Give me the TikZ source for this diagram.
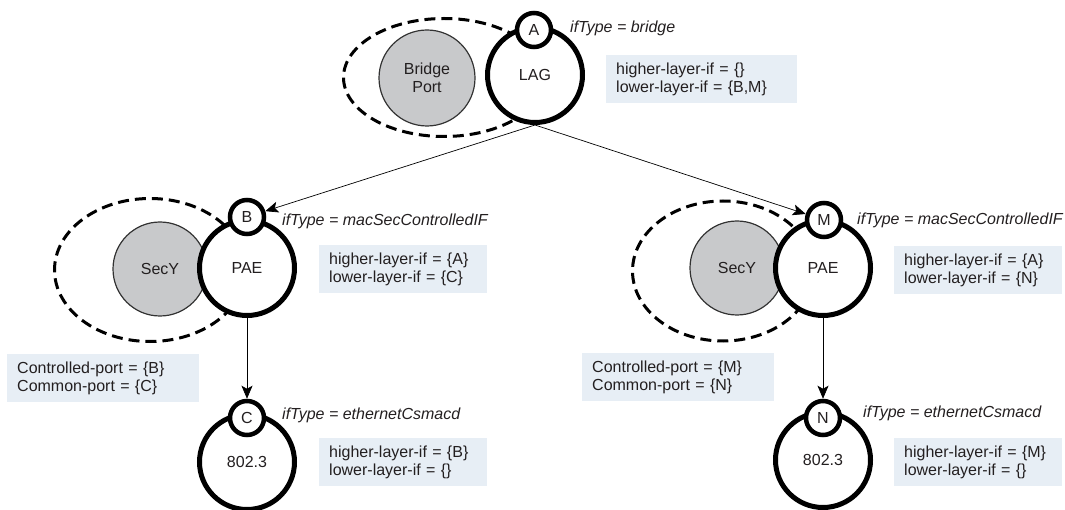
\documentclass[tikz,border=0pt]{standalone}
\usepackage{fontspec}
\setmainfont{Liberation Sans}
\usetikzlibrary{arrows.meta}
\definecolor{portgray}{HTML}{C8C9CB}
\definecolor{infoblue}{HTML}{E7EEF5}
\definecolor{inkgray}{HTML}{231F20}

\begin{document}
\begin{tikzpicture}[x=1pt, y=-1pt,
  every node/.style={font=\fontsize{16}{18.5}\selectfont, text=inkgray},
  layer/.style={circle, draw=black, line width=5pt, fill=white,
                minimum size=95pt, inner sep=0pt},
  ifcircle/.style={circle, draw=black, line width=4.5pt, fill=white,
                   minimum size=34pt, inner sep=0pt},
  shim/.style={circle, draw=black!80, line width=1.2pt, fill=portgray,
               minimum size=96pt, inner sep=0pt, align=center},
  bundle/.style={line width=3pt, dash pattern=on 11pt off 6pt},
  iftype/.style={anchor=west, inner sep=0pt,
                 font=\fontsize{16}{18.5}\selectfont\itshape},
  info/.style={fill=infoblue, anchor=north west, align=left, inner xsep=10pt,
               inner ysep=0pt, minimum height=48pt, text width=#1},
  conn/.style={-{Stealth[length=13pt, width=11pt, inset=3pt]}, line width=0.7pt}
]
  \useasboundingbox (0,0) rectangle (1065,510);

  % dashed groupings (behind everything)
  \draw[bundle] (444,77.5) ellipse [x radius=100.5pt, y radius=59pt];
  \draw[bundle] (150,270) ellipse [x radius=95.5pt, y radius=71.5pt];
  \draw[bundle] (723,271) ellipse [x radius=90.5pt, y radius=70pt];

  % shim layers
  \node[shim] (bport) at (427,78) {Bridge\\Port};
  \node[shim, minimum size=94pt] (secyB) at (160,269) {SecY};
  \node[shim, minimum size=94pt] (secyM) at (737,268) {SecY};

  % interface stack, bridge side
  \node[layer] (lag) at (535,75) {LAG};
  \node[ifcircle] (A) at (534,30) {A};
  \node[iftype] at (570,28) {ifType = bridge};
  \node[info=171pt] (infoA) at (606,55) {higher-layer-if = \{\}\\lower-layer-if = \{B,M\}};

  % left branch
  \node[layer] (paeB) at (247,268) {PAE};
  \node[ifcircle] (B) at (247,217) {B};
  \node[iftype] at (282,221) {ifType = macSecControlledIF};
  \node[info=148pt] (infoB) at (319,245) {higher-layer-if = \{A\}\\lower-layer-if = \{C\}};
  \node[info=172pt] (portB) at (7,354) {Controlled-port = \{B\}\\Common-port = \{C\}};

  \node[layer] (ethC) at (247,462) {802.3};
  \node[ifcircle] (C) at (247,418) {C};
  \node[iftype] at (282,415) {ifType = ethernetCsmacd};
  \node[info=148pt] (infoC) at (319,438) {higher-layer-if = \{B\}\\lower-layer-if = \{\}};

  % right branch
  \node[layer] (paeM) at (823,268) {PAE};
  \node[ifcircle] (M) at (824,220) {M};
  \node[iftype] at (857,220) {ifType = macSecControlledIF};
  \node[info=148pt] (infoM) at (894,246) {higher-layer-if = \{A\}\\lower-layer-if = \{N\}};
  \node[info=172pt] (portM) at (582,353) {Controlled-port = \{M\}\\Common-port = \{N\}};

  \node[layer] (ethN) at (823,460) {802.3};
  \node[ifcircle] (N) at (823,418) {N};
  \node[iftype] at (863,413) {ifType = ethernetCsmacd};
  \node[info=148pt] (infoN) at (894,438) {higher-layer-if = \{M\}\\lower-layer-if = \{\}};

  % stacking arrows
  \draw[conn] (lag.south) -- (B);
  \draw[conn] (lag.south) -- (M);
  \draw[conn] (paeB.south) -- (C);
  \draw[conn] (paeM.south) -- (N);
\end{tikzpicture}
\end{document}
